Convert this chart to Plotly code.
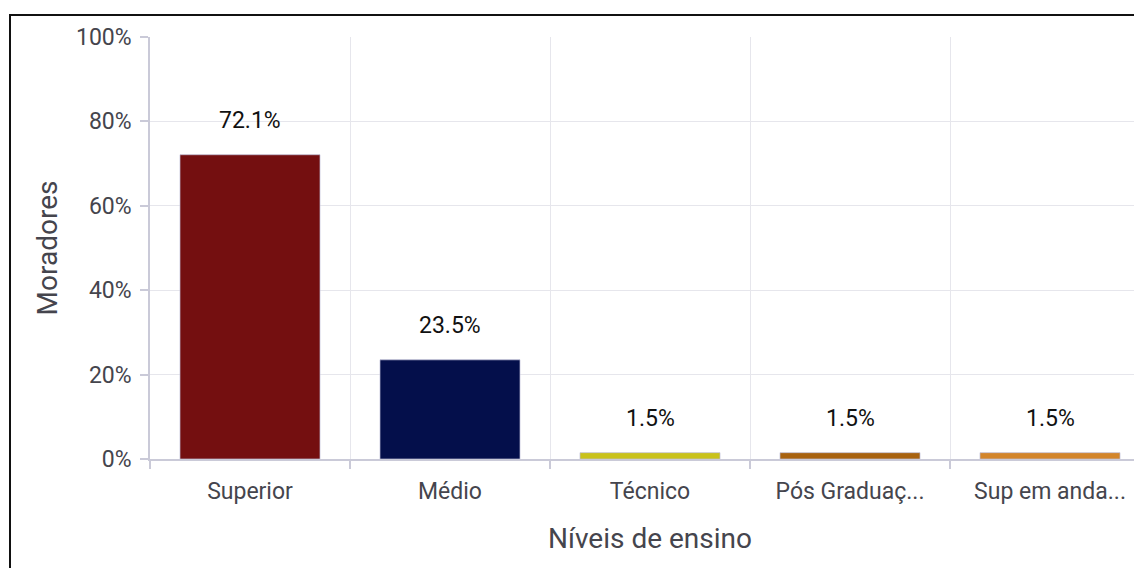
import plotly.graph_objects as go

categories = ["Superior", "Médio", "Técnico", "Pós Graduaç...", "Sup em anda..."]
values = [72.1, 23.5, 1.5, 1.5, 1.5]
labels = ["72.1%", "23.5%", "1.5%", "1.5%", "1.5%"]
colors = ["#740F10", "#040F4B", "#C9C21A", "#A8620F", "#D3852A"]
y_ticks = [0, 20, 40, 60, 80, 100]
y_tick_text = ["0%", "20%", "40%", "60%", "80%", "100%"]

OFF = 8  # default page body margin
W, H = 1142, 568
L, R, T, B = 150 - OFF, 0, 37 - OFF, H - (459 - OFF)
pw, ph = W - L - R, H - T - B

def px_x(p):
    return (p - OFF - L) / pw

def px_y(p):
    return (H - B - (p - OFF)) / ph

fig = go.Figure()
fig.add_trace(go.Bar(
    x=categories, y=values, width=0.7,
    marker=dict(color=colors, line=dict(color="rgba(190,190,215,0.7)", width=1)),
    hoverinfo="skip",
))

for c, v, t in zip(categories, values, labels):
    fig.add_annotation(x=c, y=v, text=t, showarrow=False, yanchor="middle",
                       yshift=34, font=dict(family="Roboto", size=23, color="#111111"))

axis_line = "#CACAD8"
grid = "#E6E6EC"

fig.update_layout(
    width=W, height=H,
    margin=dict(l=L, r=R, t=T, b=B, pad=0),
    paper_bgcolor="white", plot_bgcolor="white",
    showlegend=False,
    font=dict(family="Roboto", color="#444444"),
    xaxis=dict(
        range=[-0.5, 4.5], showline=True, linecolor=axis_line, linewidth=1.5,
        showgrid=True, gridcolor=grid, tickson="boundaries",
        ticks="outside", ticklen=8, tickcolor=axis_line, tickwidth=1.5,
        ticklabelstandoff=11,
        tickfont=dict(family="Roboto", size=23, color="#45454d"),
        title=dict(text="Níveis de ensino", standoff=24,
                   font=dict(family="Roboto", size=28, color="#45454d")),
        fixedrange=True,
    ),
    yaxis=dict(
        range=[0, 100], tickvals=y_ticks, ticktext=y_tick_text,
        showline=True, linecolor=axis_line, linewidth=1.5,
        showgrid=True, gridcolor=grid, zeroline=False,
        ticks="outside", ticklen=8, tickcolor=axis_line, tickwidth=1.5,
        ticklabelstandoff=4,
        tickfont=dict(family="Roboto", size=23, color="#45454d"),
        title=dict(text="Moradores", standoff=10,
                   font=dict(family="Roboto", size=28, color="#45454d")),
        fixedrange=True,
    ),
    shapes=[dict(type="rect", xref="paper", yref="paper",
                 x0=px_x(10), x1=px_x(1170), y0=px_y(620), y1=px_y(15),
                 line=dict(color="#111111", width=2), fillcolor="rgba(0,0,0,0)",
                 layer="above")],
)

fig.write_html("out.html", config={"displayModeBar": False})
